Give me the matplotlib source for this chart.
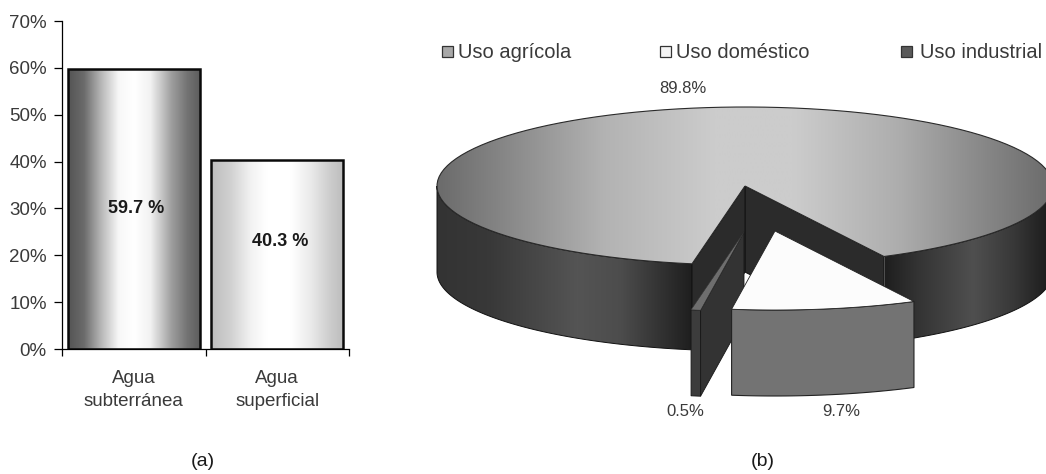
import numpy as np
from matplotlib import pyplot as plt
from matplotlib.colors import LinearSegmentedColormap
from matplotlib.patches import Polygon, Rectangle

W, H = 1046, 474

# left chart data
sources = ['Agua\nsubterránea', 'Agua\nsuperficial']
source_values = [59.7, 40.3]
source_labels = ['59.7 %', '40.3 %']
label_heights = [30, 23]
y_ticks = [0, 10, 20, 30, 40, 50, 60, 70]

# right chart data
uses = ['Uso agrícola', 'Uso doméstico', 'Uso industrial']
use_values = [89.8, 9.7, 0.5]
use_labels = ['89.8%', '9.7%', '0.5%']

plt.rcParams['font.family'] = ['Liberation Sans', 'DejaVu Sans']
TEXT = '#3a3a3a'


def gray_map(*stops):
    # stops are (position, gray level)
    return LinearSegmentedColormap.from_list('g', [(p, str(v)) for p, v in stops])


def fill_gradient(ax, patch, x0, x1, y0, y1, cmap, zorder):
    # horizontal gradient clipped to the patch
    ax.add_patch(patch)
    patch.set_zorder(zorder + 0.1)
    im = ax.imshow(np.linspace(0, 1, 256).reshape(1, -1), extent=(x0, x1, y0, y1),
                   cmap=cmap, aspect='auto', zorder=zorder, interpolation='bilinear')
    im.set_clip_path(patch)


fig = plt.figure(figsize=(W / 100, H / 100), dpi=100)

# (a) bars
ax = fig.add_axes([62 / W, 1 - 349 / H, 287 / W, 328 / H])
bars = ax.bar(range(len(sources)), source_values, width=0.92, facecolor='none',
              edgecolor='#0a0a0a', linewidth=1.8, zorder=3)
bar_maps = [gray_map((0, 0.33), (0.12, 0.42), (0.25, 0.72), (0.38, 0.97), (0.5, 1.0),
                     (0.62, 0.95), (0.78, 0.62), (0.9, 0.45), (1, 0.36)),
            gray_map((0, 0.74), (0.15, 0.82), (0.3, 0.95), (0.42, 1.0), (0.6, 1.0),
                     (0.75, 0.92), (0.9, 0.8), (1, 0.74))]
for bar, cmap in zip(bars, bar_maps):
    im = ax.imshow(np.linspace(0, 1, 256).reshape(1, -1),
                   extent=(bar.get_x(), bar.get_x() + bar.get_width(), 0, bar.get_height()),
                   cmap=cmap, aspect='auto', zorder=2)
    im.set_clip_path(bar)
ax.set_xlim(-0.5, 1.5)
ax.set_ylim(0, 70)
ax.set_yticks(y_ticks, [f'{v}%' for v in y_ticks], fontsize=13.5, color=TEXT)
ax.set_xticks([-0.5, 0.5, 1.5], ['', '', ''])
ax.set_xticks([0, 1], sources, minor=True, fontsize=13.5, color=TEXT, linespacing=1.5)
ax.tick_params(axis='x', which='minor', length=0, pad=15)
ax.tick_params(axis='x', which='major', length=5, width=0.9, direction='out')
ax.tick_params(axis='y', length=6, width=0.9, pad=5)
ax.spines[['top', 'right']].set_visible(False)
ax.spines[['left', 'bottom']].set_linewidth(0.9)
for i, label in enumerate(source_labels):
    ax.text(i + 0.02, label_heights[i], label, ha='center', va='center',
            fontsize=13, fontweight='bold', color='#1a1a1a', zorder=4)

# (b) exploded 3D pie, drawn on an overlay in pixel units
pie = fig.add_axes([0, 0, 1, 1], facecolor='none')
pie.axis('off')

CX, CY, RX, RY, DEPTH = 745, 186, 308, 79, 86
START = 620.1  # first slice begins here, then runs clockwise


def arc(t0, t1, dx=0, dy=0, n=120):
    t = np.radians(np.linspace(t0, t1, n))
    return np.column_stack([CX + dx + RX * np.cos(t), CY + dy - RY * np.sin(t)])


def top_shape(t0, t1, dx=0, dy=0):
    return np.vstack([[CX + dx, CY + dy], arc(t0, t1, dx, dy)])


def outer_wall(t0, t1, dx=0, dy=0):
    a = arc(t0, t1, dx, dy)
    return np.vstack([a, a[::-1] + [0, DEPTH]])


def cut_wall(t, dx=0, dy=0):
    p = arc(t, t, dx, dy, 2)[0]
    c = np.array([CX + dx, CY + dy])
    return np.array([c, p, p + [0, DEPTH], c + [0, DEPTH]])


sweeps = np.array(use_values) / sum(use_values) * 360
edges = START - np.concatenate([[0], np.cumsum(sweeps)])
agr_t0, agr_t1 = edges[0], edges[1]
dom_t0, dom_t1 = edges[1], edges[2]
ind_t0, ind_t1 = edges[2], edges[3]

left_wall_map = gray_map((0, 0.2), (0.2, 0.22), (0.55, 0.33), (0.72, 0.3), (1, 0.12))
right_wall_map = gray_map((0, 0.12), (0.2, 0.2), (0.55, 0.31), (0.8, 0.22), (1, 0.12))
top_map = gray_map((0, 0.42), (0.1, 0.52), (0.27, 0.7), (0.45, 0.8), (0.58, 0.8),
                   (0.75, 0.68), (0.9, 0.52), (1, 0.42))
x0, x1 = CX - RX, CX + RX

# outer wall of the big slice, only where it faces the viewer
fill_gradient(pie, Polygon(outer_wall(180, agr_t0 - 360), closed=True, facecolor='none',
                           edgecolor='#111111', linewidth=0.7),
              x0, 692, 0, H, left_wall_map, 1)
fill_gradient(pie, Polygon(outer_wall(agr_t1, 360), closed=True, facecolor='none',
                           edgecolor='#111111', linewidth=0.7),
              885, 1046, 0, H, right_wall_map, 1)

# walls of the cut in the big slice
for t in (agr_t1, agr_t0):
    pie.add_patch(Polygon(cut_wall(t), closed=True, facecolor='#2b2b2b',
                          edgecolor='#141414', linewidth=0.8, zorder=2))

fill_gradient(pie, Polygon(top_shape(agr_t0, agr_t1), closed=True, facecolor='none',
                           edgecolor='#2a2a2a', linewidth=0.8),
              x0, x1, 0, H, top_map, 3)

# industrial slice, pushed down
IND_DX, IND_DY = -1, 46
pie.add_patch(Polygon(cut_wall(ind_t0, IND_DX, IND_DY), closed=True, facecolor='#333333',
                      edgecolor='#161616', linewidth=0.6, zorder=4))
pie.add_patch(Polygon(outer_wall(ind_t1, ind_t0, IND_DX, IND_DY), closed=True, facecolor='#3c3c3c',
                      edgecolor='#161616', linewidth=0.6, zorder=4.5))
pie.add_patch(Polygon(top_shape(ind_t1, ind_t0, IND_DX, IND_DY), closed=True, facecolor='#6e6e6e',
                      edgecolor='#333333', linewidth=0.4, zorder=4.6))

# domestic slice, pushed out to the lower right
DOM_DX, DOM_DY = 30, 45
pie.add_patch(Polygon(outer_wall(dom_t1, dom_t0, DOM_DX, DOM_DY), closed=True, facecolor='#737373',
                      edgecolor='#222222', linewidth=0.8, zorder=5))
pie.add_patch(Polygon(top_shape(dom_t1, dom_t0, DOM_DX, DOM_DY), closed=True, facecolor='#fcfcfc',
                      edgecolor='#222222', linewidth=0.6, zorder=6))

pie.set_xlim(0, W)
pie.set_ylim(H, 0)

# legend
legend_x = [442, 660, 901]
text_x = [458, 676, 920]
legend_colors = ['#a8a8a8', '#f4f4f4', '#5a5a5a']
for x, tx, name, color in zip(legend_x, text_x, uses, legend_colors):
    pie.add_patch(Rectangle((x, 46), 11, 11, facecolor=color, edgecolor='#333333',
                            linewidth=0.9, zorder=7))
    pie.text(tx, 52, name, ha='left', va='center', fontsize=14.5, color=TEXT, zorder=7)

label_pos = [(683, 88), (841, 412), (685, 412)]
for (x, y), label in zip(label_pos, use_labels):
    pie.text(x, y, label, ha='center', va='center', fontsize=12, color=TEXT, zorder=7)

pie.text(203, 461, '(a)', ha='center', va='center', fontsize=14, color='#1a1a1a')
pie.text(763, 461, '(b)', ha='center', va='center', fontsize=14, color='#1a1a1a')

fig.savefig('out.png', dpi=100)
